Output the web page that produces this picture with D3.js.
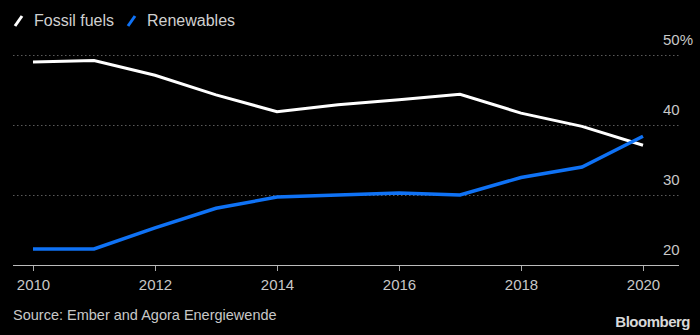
<!DOCTYPE html>
<html><head><meta charset="utf-8">
<script src="https://cdn.jsdelivr.net/npm/d3@7"></script>
<style>
html,body{margin:0;padding:0;background:#000;}
svg{display:block;}
text{font-family:"Liberation Sans",Arial,sans-serif;}
</style></head>
<body>
<svg id="chart" width="700" height="335"></svg>
<script>
const years = [2010,2011,2012,2013,2014,2015,2016,2017,2018,2019,2020];
const fossil = [49.0,49.2,47.1,44.3,41.9,42.9,43.6,44.4,41.7,39.8,37.1];
const renewables = [22.3,22.3,25.3,28.1,29.7,30.0,30.3,30.0,32.5,34.0,38.4];
const xTicks = [2010,2012,2014,2016,2018,2020];
const yTicks = [20,30,40,50];
const seriesNames = ["Fossil fuels","Renewables"];
const seriesColors = ["#ffffff","#0f72f5"];

const svg = d3.select("#chart");
svg.append("rect").attr("width",700).attr("height",335).attr("fill","#000");

const x = d3.scaleLinear().domain([2010,2020]).range([33,643]);
const y = d3.scaleLinear().domain([20,50]).range([265,55]);

// gridlines
svg.append("g").selectAll("line").data(yTicks.filter(t=>t>20)).join("line")
  .attr("x1",13).attr("x2",680)
  .attr("y1",d=>y(d)+0.5).attr("y2",d=>y(d)+0.5)
  .attr("stroke","#5a5a5a").attr("stroke-width",1.2).attr("stroke-dasharray","1.5,2.5");

// y labels
svg.append("g").selectAll("text").data(yTicks).join("text")
  .attr("x",663).attr("y",d=>y(d)-10)
  .attr("fill","#c8c8c8").attr("font-size",15)
  .text(d=>d===50?d+"%":d);

// x axis
const xAxis = d3.axisBottom(x).tickValues(xTicks).tickFormat(d3.format("d")).tickSize(6).tickPadding(8);
const gx = svg.append("g").attr("transform","translate(0,265)").call(xAxis);
gx.select(".domain").remove();
gx.selectAll(".tick line").attr("stroke","#aaa");
gx.selectAll(".tick text").attr("fill","#c8c8c8").attr("font-size",15).attr("font-family","Liberation Sans, Arial, sans-serif");
svg.append("line").attr("x1",13).attr("x2",679).attr("y1",265.5).attr("y2",265.5)
  .attr("stroke","#bbb").attr("stroke-width",1);

// lines
const line = d3.line().x((d,i)=>x(years[i])).y(d=>y(d));
[fossil,renewables].forEach((s,i)=>{
  svg.append("path").datum(s).attr("d",line)
    .attr("fill","none").attr("stroke",seriesColors[i])
    .attr("stroke-width",i===0?3:3.5).attr("stroke-linejoin","miter");
});

// legend
const legendX = [14,127];
seriesNames.forEach((n,i)=>{
  svg.append("line").attr("x1",legendX[i]+1).attr("y1",26).attr("x2",legendX[i]+8).attr("y2",16)
    .attr("stroke",seriesColors[i]).attr("stroke-width",3);
  svg.append("text").attr("x",legendX[i]+20).attr("y",26)
    .attr("fill","#d0d0d0").attr("font-size",16).text(n);
});

// source
svg.append("text").attr("x",13).attr("y",320).attr("fill","#c8c8c8").attr("font-size",14.5)
  .text("Source: Ember and Agora Energiewende");
svg.append("text").attr("x",690).attr("y",327).attr("text-anchor","end")
  .attr("fill","#d8d8d8").attr("font-size",15).attr("font-weight","bold")
  .attr("letter-spacing","-0.5").text("Bloomberg");
</script>
</body></html>
